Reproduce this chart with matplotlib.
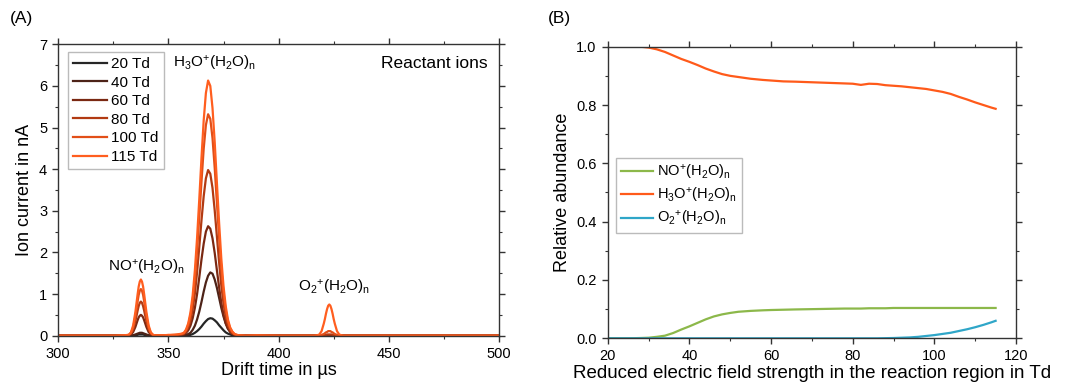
import matplotlib
matplotlib.use('Agg')
import matplotlib.pyplot as plt
from matplotlib.ticker import MultipleLocator

plt.rcParams['font.family'] = ['Liberation Sans', 'DejaVu Sans']
plt.rcParams['mathtext.fontset'] = 'custom'
plt.rcParams['mathtext.rm'] = 'Liberation Sans'
plt.rcParams['mathtext.it'] = 'Liberation Sans'

# ---- (A) ion mobility spectra ----
drift_time = [
    300, 310, 320, 326, 330,
    332, 333, 334, 335, 335.5, 336, 336.5, 337, 337.5, 338, 338.5, 339, 339.5, 340, 341, 342, 343, 344,
    346, 348, 350, 352, 354, 356,
    357, 358, 359, 360, 361, 362, 363, 364, 365, 366, 367, 368, 369, 370, 371, 372, 373, 374, 375, 376,
    377, 378, 379, 380, 381, 382,
    385, 390, 400, 410, 416,
    417.5, 418.5, 419.5, 420.5, 421, 421.5, 422, 422.5, 423, 423.5, 424, 424.5, 425, 425.5, 426.5, 427.5,
    428.5, 429.5,
    432, 450, 475, 500,
]

current_20td = [
    0, 0, 0, 0, 0,
    0, 0, 0.01, 0.01, 0.02, 0.02, 0.03, 0.03, 0.03, 0.03, 0.03, 0.02, 0.02, 0.01, 0.01, 0, 0, 0,
    0, 0, 0, 0, 0, 0,
    0, 0.01, 0.01, 0.02, 0.04, 0.07, 0.11, 0.16, 0.22, 0.29, 0.35, 0.40, 0.42, 0.41, 0.37, 0.32, 0.25, 0.19,
    0.13, 0.08, 0.05, 0.03, 0.01, 0.01, 0, 0,
    0, 0, 0, 0, 0,
    0, 0, 0, 0, 0, 0, 0, 0, 0, 0, 0, 0, 0, 0, 0, 0, 0, 0,
    0, 0, 0, 0,
]
current_40td = [
    0, 0, 0, 0, 0,
    0, 0, 0.01, 0.03, 0.04, 0.05, 0.06, 0.07, 0.07, 0.07, 0.06, 0.05, 0.04, 0.03, 0.01, 0, 0, 0,
    0, 0, 0, 0, 0, 0,
    0.01, 0.02, 0.04, 0.07, 0.14, 0.24, 0.39, 0.58, 0.81, 1.06, 1.28, 1.44, 1.52, 1.49, 1.35, 1.15, 0.91, 0.67,
    0.46, 0.29, 0.17, 0.10, 0.05, 0.02, 0.01, 0,
    0, 0, 0, 0, 0,
    0, 0, 0, 0, 0, 0, 0, 0, 0, 0, 0, 0, 0, 0, 0, 0, 0, 0,
    0, 0, 0, 0,
]
current_60td = [
    0, 0, 0, 0, 0,
    0.01, 0.03, 0.09, 0.21, 0.29, 0.37, 0.44, 0.48, 0.50, 0.48, 0.44, 0.37, 0.29, 0.21, 0.09, 0.03, 0.01, 0,
    0, 0, 0, 0.01, 0.01, 0.01,
    0.03, 0.07, 0.13, 0.24, 0.42, 0.67, 1.00, 1.40, 1.83, 2.21, 2.50, 2.63, 2.57, 2.34, 1.99, 1.57, 1.16, 0.79,
    0.51, 0.30, 0.17, 0.09, 0.04, 0.02, 0.01, 0,
    0, 0, 0, 0, 0,
    0, 0, 0, 0, 0, 0, 0, 0, 0, 0, 0, 0, 0, 0, 0, 0, 0, 0,
    0, 0, 0, 0,
]
current_80td = [
    0, 0, 0, 0, 0,
    0.01, 0.05, 0.15, 0.35, 0.47, 0.60, 0.71, 0.79, 0.82, 0.79, 0.71, 0.60, 0.47, 0.35, 0.15, 0.05, 0.01, 0,
    0, 0.01, 0.01, 0.01, 0.02, 0.03,
    0.05, 0.10, 0.20, 0.37, 0.63, 1.01, 1.52, 2.13, 2.77, 3.35, 3.78, 3.98, 3.89, 3.55, 3.01, 2.38, 1.76, 1.20,
    0.77, 0.46, 0.25, 0.13, 0.06, 0.03, 0.01, 0,
    0, 0, 0, 0, 0,
    0, 0, 0, 0.01, 0.02, 0.02, 0.03, 0.03, 0.03, 0.03, 0.03, 0.02, 0.02, 0.01, 0, 0, 0, 0,
    0, 0, 0, 0,
]
current_100td = [
    0, 0, 0, 0, 0.01,
    0.02, 0.07, 0.20, 0.47, 0.64, 0.82, 0.98, 1.08, 1.12, 1.08, 0.98, 0.82, 0.64, 0.47, 0.20, 0.07, 0.02, 0,
    0.01, 0.01, 0.01, 0.02, 0.02, 0.04,
    0.06, 0.13, 0.26, 0.49, 0.84, 1.36, 2.04, 2.85, 3.70, 4.49, 5.06, 5.32, 5.21, 4.75, 4.03, 3.19, 2.35, 1.61,
    1.03, 0.61, 0.34, 0.18, 0.09, 0.04, 0.02, 0.01,
    0, 0, 0, 0, 0,
    0, 0, 0.02, 0.04, 0.06, 0.08, 0.09, 0.11, 0.11, 0.11, 0.09, 0.08, 0.06, 0.04, 0.02, 0, 0, 0,
    0, 0, 0, 0,
]
current_115td = [
    0, 0, 0, 0, 0.01,
    0.02, 0.08, 0.25, 0.57, 0.78, 0.99, 1.18, 1.30, 1.35, 1.30, 1.18, 0.99, 0.78, 0.57, 0.25, 0.08, 0.02, 0.01,
    0.01, 0.01, 0.02, 0.02, 0.03, 0.05,
    0.07, 0.15, 0.30, 0.56, 0.97, 1.57, 2.35, 3.28, 4.27, 5.17, 5.83, 6.13, 6.00, 5.47, 4.65, 3.67, 2.71, 1.85,
    1.19, 0.71, 0.39, 0.20, 0.10, 0.04, 0.02, 0.01,
    0, 0.01, 0, 0, 0,
    0.01, 0.03, 0.11, 0.29, 0.40, 0.53, 0.64, 0.72, 0.75, 0.72, 0.64, 0.53, 0.40, 0.29, 0.11, 0.03, 0.01, 0,
    0, 0, 0, 0,
]

field_labels = ['20 Td', '40 Td', '60 Td', '80 Td', '100 Td', '115 Td']
field_colors = ['#262626', '#4d2318', '#7a2812', '#b23a12', '#e24f18', '#ff5e1f']
spectra = [current_20td, current_40td, current_60td, current_80td, current_100td, current_115td]

# ---- (B) relative abundance vs. reduced field ----
field_td = [20, 25, 28, 30, 32, 34, 36, 38, 40, 42, 44, 46, 48, 50, 52, 55, 58, 60, 63, 66,
            70, 74, 78, 80, 82, 84, 86, 88, 90, 92, 94, 96, 98, 100, 102, 104, 106, 108, 110, 112,
            114, 115]
abundance_no = [0, 0, 0.001, 0.002, 0.005, 0.009, 0.018, 0.030, 0.041, 0.053,
                0.065, 0.075, 0.082, 0.087, 0.091, 0.094, 0.096, 0.097, 0.098, 0.099,
                0.100, 0.101, 0.102, 0.102, 0.102, 0.103, 0.103, 0.103, 0.104, 0.104,
                0.104, 0.104, 0.104, 0.104, 0.104, 0.104, 0.104, 0.104, 0.104, 0.104,
                0.104, 0.104]
abundance_h3o = [1.0, 1.0, 1.0, 0.997, 0.991, 0.982, 0.970, 0.958, 0.948, 0.937,
                 0.925, 0.915, 0.906, 0.900, 0.896, 0.890, 0.886, 0.884, 0.881, 0.880,
                 0.878, 0.876, 0.874, 0.873, 0.869, 0.873, 0.872, 0.868, 0.866, 0.864,
                 0.861, 0.858, 0.855, 0.850, 0.845, 0.838, 0.828, 0.819, 0.809, 0.800,
                 0.791, 0.787]
abundance_o2 = [0, 0, 0, 0, 0, 0, 0, 0, 0, 0,
                0, 0, 0, 0, 0, 0, 0, 0, 0, 0,
                0, 0, 0, 0, 0, 0, 0, 0.0005, 0.001, 0.002,
                0.003, 0.005, 0.008, 0.011, 0.015, 0.019, 0.025, 0.031, 0.038, 0.046,
                0.055, 0.060]

ion_no = r'NO$^\mathregular{+}$(H$_\mathregular{2}$O)$_\mathregular{n}$'
ion_h3o = r'H$_\mathregular{3}$O$^\mathregular{+}$(H$_\mathregular{2}$O)$_\mathregular{n}$'
ion_o2 = r'O$_\mathregular{2}$$^\mathregular{+}$(H$_\mathregular{2}$O)$_\mathregular{n}$'


def style_axes(ax):
    for s in ax.spines.values():
        s.set_linewidth(1.0)
        s.set_color('#333333')
    ax.tick_params(which='both', direction='out', top=True, right=True, labelsize=10.5, color='#333333')
    ax.tick_params(which='major', length=4.5, width=1.0)
    ax.tick_params(which='minor', length=2.5, width=0.8)


fig = plt.figure(figsize=(10.73, 3.83), dpi=100)

axA = fig.add_axes([0.0543, 0.1235, 0.4107, 0.7608])
for y, c, l in zip(spectra, field_colors, field_labels):
    axA.plot(drift_time, y, color=c, lw=1.6, label=l)
axA.set_xlim(300, 500)
axA.set_ylim(0, 7)
axA.xaxis.set_major_locator(MultipleLocator(50))
axA.xaxis.set_minor_locator(MultipleLocator(25))
axA.yaxis.set_major_locator(MultipleLocator(1))
axA.yaxis.set_minor_locator(MultipleLocator(0.5))
style_axes(axA)
axA.set_xlabel('Drift time in µs', fontsize=13, labelpad=1)
axA.set_ylabel('Ion current in nA', fontsize=13, labelpad=4)
axA.text(371, 6.55, ion_h3o, ha='center', va='center', fontsize=11)
axA.text(340, 1.65, ion_no, ha='center', va='center', fontsize=11)
axA.text(425.3, 1.16, ion_o2, ha='center', va='center', fontsize=11)
axA.text(495, 6.55, 'Reactant ions', ha='right', va='center', fontsize=12.5)
legA = axA.legend(loc='upper left', bbox_to_anchor=(0.015, 0.985), fontsize=11, frameon=True,
                  fancybox=False, edgecolor='#aaaaaa', handlelength=2.2, labelspacing=0.3,
                  borderpad=0.35, handletextpad=0.3, borderaxespad=0.2)
legA.get_frame().set_linewidth(1.0)
fig.text(0.009, 0.94, '(A)', fontsize=12.5)

axB = fig.add_axes([0.5664, 0.1167, 0.3805, 0.7614])
axB.plot(field_td, abundance_no, color='#8cb84a', lw=1.6, label=ion_no)
axB.plot(field_td, abundance_h3o, color='#ff5a1a', lw=1.6, label=ion_h3o)
axB.plot(field_td, abundance_o2, color='#2fa6c8', lw=1.6, label=ion_o2)
axB.set_xlim(20, 120)
axB.set_ylim(0, 1.0)
axB.xaxis.set_major_locator(MultipleLocator(20))
axB.xaxis.set_minor_locator(MultipleLocator(10))
axB.yaxis.set_major_locator(MultipleLocator(0.2))
axB.yaxis.set_minor_locator(MultipleLocator(0.1))
style_axes(axB)
axB.set_xlabel('Reduced electric field strength in the reaction region in Td', fontsize=13.5, labelpad=1)
axB.set_ylabel('Relative abundance', fontsize=13, labelpad=4)
legB = axB.legend(loc='upper left', bbox_to_anchor=(0.02, 0.62), fontsize=10.5, frameon=True,
                  fancybox=False, edgecolor='#aaaaaa', handlelength=2.2, labelspacing=0.3,
                  borderpad=0.35, handletextpad=0.3, borderaxespad=0.0)
legB.get_frame().set_linewidth(1.0)
fig.text(0.511, 0.94, '(B)', fontsize=12.5)

fig.savefig('out.png', dpi=100)
